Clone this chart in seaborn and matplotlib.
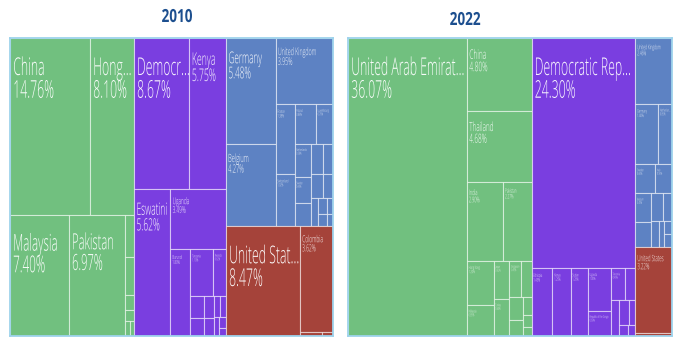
import numpy as np
import pandas as pd
import seaborn as sns
import matplotlib
matplotlib.use("Agg")
import matplotlib.pyplot as plt
from matplotlib.patches import Rectangle
from matplotlib.patheffects import AbstractPathEffect
from matplotlib.transforms import Affine2D
from matplotlib.textpath import TextPath
from matplotlib.font_manager import FontProperties

# ---------------------------------------------------------------- data
countries_2010 = [
    "China", "Hong Kong", "Malaysia", "Pakistan", "India", "Japan", "Thailand",
    "Singapore", "Bangladesh", "Philippines",
    "Democratic Republic of the Congo", "Kenya", "Eswatini", "Uganda", "Burundi",
    "Tanzania", "Rwanda", "Sudan", "Zambia", "Malawi", "Ethiopia", "Somalia",
    "Nigeria", "South Sudan", "Zimbabwe", "Ghana",
    "Germany", "Belgium", "United Kingdom", "France", "Switzerland", "Poland",
    "Luxembourg", "Netherlands", "Sweden", "Italy", "Spain", "Austria", "Denmark",
    "Norway", "Ireland", "Czechia", "Portugal", "Finland", "Greece",
    "United States", "Colombia", "Canada", "Brazil",
]
regions_2010 = (["Asia"] * 10 + ["Africa"] * 16 + ["Europe"] * 19 + ["Americas"] * 4)
shares_2010 = [
    14.76, 8.10, 7.40, 6.97, 0.40, 0.37, 0.14, 0.11, 0.08, 0.06,
    8.67, 5.75, 5.62, 3.49, 1.80, 1.10, 0.62, 0.32, 0.25, 0.22, 0.18, 0.15,
    0.12, 0.10, 0.08, 0.06,
    5.48, 4.27, 3.95, 1.38, 1.02, 0.88, 0.70, 0.58, 0.45, 0.40, 0.38, 0.32,
    0.28, 0.25, 0.20, 0.15, 0.12, 0.10, 0.08,
    8.47, 3.62, 0.10, 0.05,
]

countries_2022 = [
    "United Arab Emirates", "China", "Thailand", "India", "Pakistan", "Hong Kong",
    "Malaysia", "Japan", "Turkey", "Singapore", "Saudi Arabia", "Israel", "Qatar",
    "Vietnam", "Lebanon", "Oman",
    "Democratic Republic of the Congo", "Ethiopia", "Kenya", "Sudan", "Uganda",
    "Republic of the Congo", "Tanzania", "Rwanda", "Burundi", "Zambia", "Nigeria",
    "Malawi", "Egypt",
    "United Kingdom", "Germany", "Netherlands", "Sweden", "Italy", "Belgium",
    "France", "Spain", "Switzerland", "Poland", "Austria", "Denmark", "Ireland",
    "United States", "Canada",
]
regions_2022 = (["Asia"] * 16 + ["Africa"] * 13 + ["Europe"] * 13 + ["Americas"] * 2)
shares_2022 = [
    36.07, 4.80, 4.68, 2.90, 2.27, 1.20, 0.85, 0.62, 0.60, 0.45, 0.38, 0.30,
    0.22, 0.16, 0.11, 0.08,
    24.30, 1.45, 1.25, 1.20, 1.00, 0.60, 0.45, 0.35, 0.30, 0.25, 0.15, 0.10, 0.08,
    2.46, 1.40, 0.85, 0.60, 0.50, 0.45, 0.40, 0.35, 0.25, 0.20, 0.15, 0.10, 0.10,
    3.22, 0.12,
]

years = ["2010", "2022"]
region_names = ["Asia", "Africa", "Europe", "Americas"]
region_hex = ["#71C07F", "#7A3EE0", "#5D82C3", "#A5433A"]

# ---------------------------------------------------------------- style
sns.set_theme(style="white")
plt.rcParams["font.family"] = ["Open Sans", "DejaVu Sans"]
palette = dict(zip(region_names, sns.color_palette(region_hex)))

DPI = 100
FIG_W, FIG_H = 6.75, 3.39
VIRTUAL_W = 2.4          # layout width of the tile area (height is 1)
NARROW = 0.5             # glyph width relative to a normal face of the same height
LABEL_WEIGHT = "light"
LABEL_FONT = FontProperties(family="Open Sans", weight=LABEL_WEIGHT)
CAP_VALUES = [0.3, 1.0, 2.4, 3.5, 4.5, 5.6, 7.0, 8.0]
CAP_PX = [2.5, 3.0, 4.5, 6.8, 8.5, 12.0, 16.0, 17.5]


class TallGlyphs(AbstractPathEffect):
    """Stretch glyph outlines vertically about the text baseline."""

    def __init__(self, sy):
        super().__init__()
        self.sy = sy

    def draw_path(self, renderer, gc, tpath, affine, rgbFace=None):
        y0 = affine.get_matrix()[1, 2]
        stretch = Affine2D().translate(0, -y0).scale(1, self.sy).translate(0, y0)
        renderer.draw_path(gc, tpath, affine + stretch, rgbFace)


def worst_ratio(row, side):
    s = sum(row)
    return max(max(side * side * a / (s * s), (s * s) / (side * side * a)) for a in row)


def squarify(areas, x, y, w, h):
    rects = []
    i, n = 0, len(areas)
    while i < n:
        side = min(w, h)
        row = [areas[i]]
        j = i + 1
        while j < n and worst_ratio(row + [areas[j]], side) <= worst_ratio(row, side):
            row.append(areas[j])
            j += 1
        s = sum(row)
        if w >= h:
            cw = s / h
            yy = y
            for a in row:
                rh = a / cw
                rects.append((x, yy, cw, rh))
                yy += rh
            x += cw
            w -= cw
        else:
            rh = s / w
            xx = x
            for a in row:
                rw = a / rh
                rects.append((xx, y, rw, rh))
                xx += rw
            y += rh
            h -= rh
        i = j
    return rects


def text_width(s, size_px):
    return TextPath((0, 0), s, size=size_px * NARROW, prop=LABEL_FONT).get_extents().width


def fit_name(name, size_px, avail):
    if text_width(name, size_px) <= avail:
        return name
    for k in range(len(name) - 1, 0, -1):
        cand = name[:k].rstrip() + "..."
        if text_width(cand, size_px) <= avail:
            return cand
    return None


def draw_treemap(ax, df):
    ax.set_xlim(0, VIRTUAL_W)
    ax.set_ylim(1, 0)
    pos = ax.get_position()
    px_x = pos.width * FIG_W * DPI / VIRTUAL_W
    px_y = pos.height * FIG_H * DPI

    totals = df.groupby("region")["share"].sum().sort_values(ascending=False)
    group_rects = squarify(list(totals.values / totals.sum() * VIRTUAL_W), 0, 0, VIRTUAL_W, 1)
    for (region, _), (gx, gy, gw, gh) in zip(totals.items(), group_rects):
        sub = df[df["region"] == region].sort_values("share", ascending=False)
        areas = list(sub["share"] / sub["share"].sum() * gw * gh)
        for (name, val), (x, y, w, h) in zip(zip(sub["country"], sub["share"]),
                                             squarify(areas, gx, gy, gw, gh)):
            ax.add_patch(Rectangle((x, y), w, h, facecolor=palette[region],
                                   edgecolor=(1, 1, 1, 0.5), linewidth=0.8))
            tw, th = w * px_x, h * px_y
            cap = float(np.interp(val, CAP_VALUES, CAP_PX))
            pad = 1.5 + 0.1 * cap
            base1 = 2 * cap + 2
            base2 = base1 + 1.3 * cap
            if val < 0.45 or tw < 8 or th < base2 + 2:
                continue
            size_px = cap / 0.714
            avail = tw - pad - 1.5
            pct = f"{val:.2f}%"
            shown = fit_name(name, size_px, avail)
            if shown is None or text_width(pct, size_px) > avail:
                continue
            for line, base in ((shown, base1), (pct, base2)):
                ax.text(x + pad / px_x, y + base / px_y, line,
                        fontsize=size_px * NARROW * 72 / DPI, family="Open Sans",
                        fontweight=LABEL_WEIGHT,
                        color=(1, 1, 1, 0.95), ha="left", va="baseline",
                        path_effects=[TallGlyphs(1 / NARROW)], clip_on=True)

    ax.set_xticks([])
    ax.set_yticks([])
    for sp in ax.spines.values():
        sp.set_color("#9ED3EC")
        sp.set_linewidth(1.3)


fig = plt.figure(figsize=(FIG_W, FIG_H), dpi=DPI)
fig.patch.set_facecolor("white")

panels = {
    "2010": pd.DataFrame({"country": countries_2010, "region": regions_2010, "share": shares_2010}),
    "2022": pd.DataFrame({"country": countries_2022, "region": regions_2022, "share": shares_2022}),
}
ax_left = [10 / 675, 348 / 675]
ax_width = [323 / 675, 324 / 675]
title_x = [177 / 675, 465 / 675]
title_base = [1 - 22 / 339, 1 - 25 / 339]
TITLE_NARROW = 0.75

for k, year in enumerate(years):
    ax = fig.add_axes([ax_left[k], 1 - 336 / 339, ax_width[k], 298 / 339])
    draw_treemap(ax, panels[year])
    fig.text(title_x[k], title_base[k], year, ha="center", va="baseline",
             fontsize=13 * TITLE_NARROW, fontweight="bold", color="#1D4F8F",
             path_effects=[TallGlyphs(1 / TITLE_NARROW)])

fig.savefig("out.png", dpi=DPI)
